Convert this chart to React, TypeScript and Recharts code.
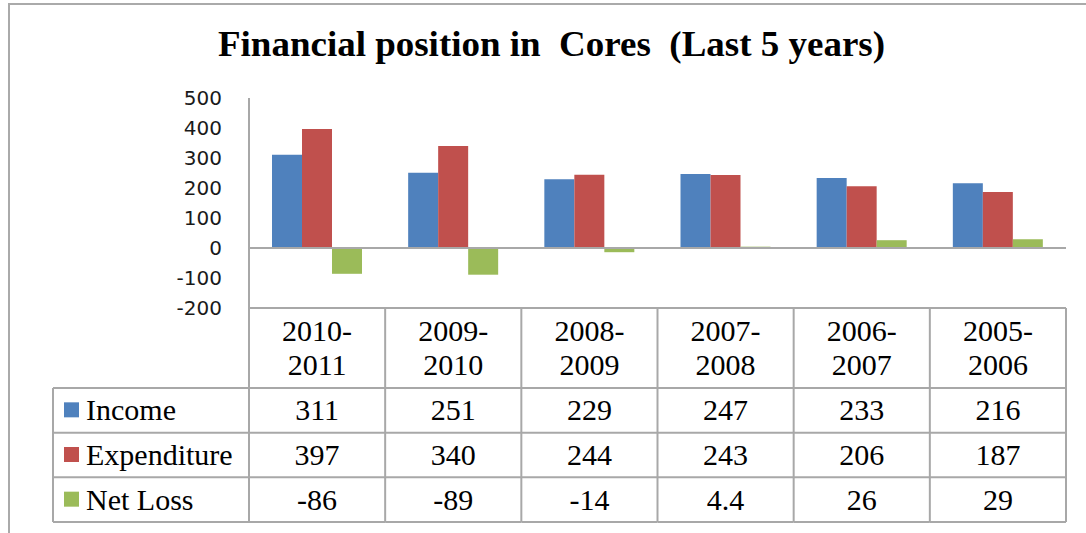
import { BarChart, Bar, XAxis, YAxis, ReferenceLine } from "recharts";

const categories = ["2010-2011", "2009-2010", "2008-2009", "2007-2008", "2006-2007", "2005-2006"];
const income = [311, 251, 229, 247, 233, 216];
const expenditure = [397, 340, 244, 243, 206, 187];
const netLoss = [-86, -89, -14, 4.4, 26, 29];
const yTicks = [-200, -100, 0, 100, 200, 300, 400, 500];

const series = [
  { key: "income", label: "Income", color: "#4F81BD", values: income },
  { key: "expenditure", label: "Expenditure", color: "#C0504D", values: expenditure },
  { key: "netLoss", label: "Net Loss", color: "#9BBB59", values: netLoss },
];

const data = categories.map((name, i) => ({
  name,
  income: income[i],
  expenditure: expenditure[i],
  netLoss: netLoss[i],
}));

const W = 1086;
const H = 533;
const MARGIN = { top: 98, right: 20, left: 0, bottom: 11 };
const Y_AXIS_W = 249;
const X_AXIS_H = 214;
const HEADER_H = 80;
const ROW_H = 134 / 3;
const LEGEND_W = 196;
const LINE = "#a8a8a8";
const SERIF = "'Liberation Serif', 'Times New Roman', serif";
const bandW = (W - MARGIN.left - MARGIN.right - Y_AXIS_W) / categories.length;

function TableTick(props: any) {
  const { x, y, payload, index } = props;
  const half = bandW / 2;
  const left = x - half;
  const right = x + half;
  const bottom = y + HEADER_H + ROW_H * series.length;
  const parts = String(payload.value).split("-");
  const txt = { fontFamily: SERIF, fontSize: 30, fill: "#000", textAnchor: "middle" as const };

  return (
    <g>
      <line x1={right} y1={y} x2={right} y2={bottom} stroke={LINE} strokeWidth={2} />
      {index === 0 && <line x1={left} y1={y} x2={left} y2={bottom} stroke={LINE} strokeWidth={2} />}
      <text x={x} y={y + 33} {...txt}>{parts[0]}-</text>
      <text x={x} y={y + 67} {...txt}>{parts[1]}</text>
      {series.map((s, r) => {
        const top = y + HEADER_H + r * ROW_H;
        return (
          <g key={s.key}>
            <line x1={left} y1={top} x2={right} y2={top} stroke={LINE} strokeWidth={2} />
            <text x={x} y={top + ROW_H / 2 + 10} {...txt}>{String(s.values[index])}</text>
            {index === 0 && (
              <g>
                <line x1={left - LEGEND_W} y1={top} x2={left} y2={top} stroke={LINE} strokeWidth={2} />
                <rect x={left - LEGEND_W + 11} y={top + ROW_H / 2 - 8} width={15} height={15} fill={s.color} />
                <text
                  x={left - LEGEND_W + 33}
                  y={top + ROW_H / 2 + 10}
                  fontFamily={SERIF}
                  fontSize={30}
                  fill="#000"
                >
                  {s.label}
                </text>
              </g>
            )}
          </g>
        );
      })}
      <line x1={left} y1={bottom} x2={right} y2={bottom} stroke={LINE} strokeWidth={2} />
      {index === 0 && (
        <g>
          <line x1={left - LEGEND_W} y1={bottom} x2={left} y2={bottom} stroke={LINE} strokeWidth={2} />
          <line
            x1={left - LEGEND_W}
            y1={y + HEADER_H}
            x2={left - LEGEND_W}
            y2={bottom}
            stroke={LINE}
            strokeWidth={2}
          />
        </g>
      )}
    </g>
  );
}

export default function App() {
  return (
    <div style={{ position: "absolute", left: 0, top: 0, width: W, height: H, background: "#fff" }}>
      <div
        style={{
          position: "absolute",
          left: 8,
          top: 3,
          width: W - 8,
          height: H - 3,
          borderTop: "2px solid #aaaaaa",
          borderLeft: "2px solid #aaaaaa",
          boxSizing: "border-box",
        }}
      />
      <svg style={{ position: "absolute", left: 0, top: 0 }} width={W} height={80}>
        <text
          x={218}
          y={56}
          textLength={667}
          lengthAdjust="spacingAndGlyphs"
          fontFamily={SERIF}
          fontWeight="bold"
          fontSize={36}
          fill="#000"
          style={{ whiteSpace: "pre" }}
        >
          {"Financial position in  Cores  (Last 5 years)"}
        </text>
      </svg>
      <div style={{ position: "absolute", left: 0, top: 0 }}>
        <BarChart width={W} height={H} data={data} margin={MARGIN} barGap={0}>
          <XAxis
            dataKey="name"
            height={X_AXIS_H}
            interval={0}
            tickLine={false}
            tickSize={0}
            tickMargin={0}
            axisLine={{ stroke: LINE, strokeWidth: 2 }}
            tick={<TableTick />}
          />
          <YAxis
            width={Y_AXIS_W}
            domain={[-200, 500]}
            ticks={yTicks}
            interval={0}
            tickLine={false}
            tickSize={0}
            tickMargin={27}
            axisLine={{ stroke: LINE, strokeWidth: 2 }}
            tick={{ fontFamily: "'DejaVu Sans', Verdana, sans-serif", fontSize: 20, fill: "#1a1a1a" }}
          />
          <ReferenceLine y={0} stroke={LINE} strokeWidth={2} />
          {series.map((s) => (
            <Bar key={s.key} dataKey={s.key} fill={s.color} barSize={30} isAnimationActive={false} />
          ))}
        </BarChart>
      </div>
    </div>
  );
}
